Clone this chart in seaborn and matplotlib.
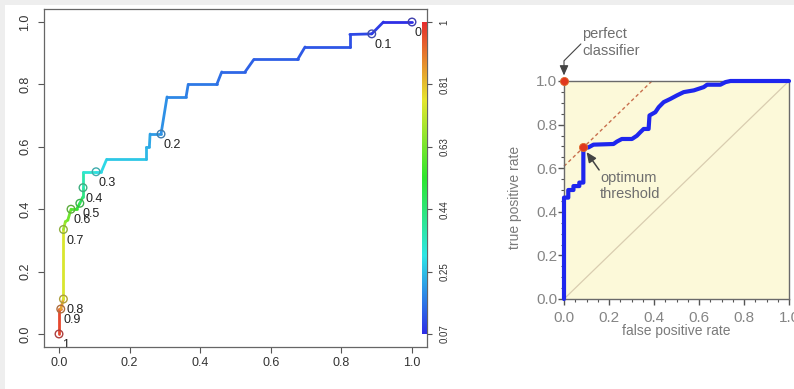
import numpy as np
import pandas as pd
import matplotlib
matplotlib.use("Agg")
import matplotlib.pyplot as plt
import seaborn as sns
from matplotlib.collections import LineCollection
from matplotlib.colors import ListedColormap, Normalize, hsv_to_rgb
from matplotlib.patches import Rectangle
from matplotlib.ticker import MultipleLocator

sns.set_theme(style="white")
plt.rcParams['font.family'] = ['Liberation Sans', 'DejaVu Sans']

# ---------------- data: left panel (ROC coloured by cutoff) ----------------
fpr_left = [0.000, 0.000, 0.005, 0.0125, 0.0125, 0.018, 0.025, 0.034, 0.050, 0.059,
            0.068, 0.068, 0.068, 0.105, 0.120, 0.135, 0.246, 0.246, 0.256, 0.258,
            0.289, 0.306, 0.360, 0.366, 0.447, 0.461, 0.527, 0.552, 0.676, 0.697,
            0.824, 0.824, 0.886, 0.919, 1.000]
tpr_left = [0.000, 0.080, 0.080, 0.112, 0.335, 0.360, 0.365, 0.400, 0.400, 0.419,
            0.440, 0.469, 0.520, 0.520, 0.520, 0.560, 0.560, 0.600, 0.600, 0.641,
            0.641, 0.760, 0.760, 0.800, 0.800, 0.840, 0.840, 0.880, 0.880, 0.920,
            0.920, 0.960, 0.962, 1.000, 1.000]
cut_left = [1.00, 0.93, 0.90, 0.80, 0.70, 0.66, 0.63, 0.60, 0.55, 0.50,
            0.45, 0.40, 0.35, 0.30, 0.29, 0.28, 0.25, 0.24, 0.23, 0.22,
            0.20, 0.19, 0.18, 0.17, 0.16, 0.15, 0.14, 0.135, 0.13, 0.125,
            0.12, 0.11, 0.10, 0.08, 0.00]

label_cut = [1.0, 0.9, 0.8, 0.7, 0.6, 0.5, 0.4, 0.3, 0.2, 0.1, 0.0]
label_text = ["1", "0.9", "0.8", "0.7", "0.6", "0.5", "0.4", "0.3", "0.2", "0.1", "0"]
label_fpr = [0.000, 0.005, 0.0125, 0.0125, 0.034, 0.059, 0.068, 0.105, 0.289, 0.886, 1.000]
label_tpr = [0.000, 0.080, 0.112, 0.335, 0.400, 0.419, 0.469, 0.520, 0.641, 0.962, 1.000]

axis_ticks = [0.0, 0.2, 0.4, 0.6, 0.8, 1.0]
axis_ticklabels = ["0.0", "0.2", "0.4", "0.6", "0.8", "1.0"]
cbar_ticklabels = ["0.07", "0.25", "0.44", "0.63", "0.81", "1"]
cbar_min, cbar_max = 0.07, 1.0

# ---------------- data: right panel ----------------
fpr_right = [0.000, 0.000, 0.019, 0.019, 0.042, 0.042, 0.068, 0.068, 0.086, 0.086,
             0.108, 0.131, 0.220, 0.235, 0.257, 0.302, 0.324, 0.339, 0.354, 0.376,
             0.380, 0.406, 0.421, 0.443, 0.473, 0.502, 0.532, 0.577, 0.621, 0.636,
             0.695, 0.718, 0.740, 1.000]
tpr_right = [0.000, 0.465, 0.465, 0.500, 0.500, 0.518, 0.518, 0.534, 0.534, 0.695,
             0.695, 0.708, 0.711, 0.722, 0.734, 0.734, 0.749, 0.765, 0.780, 0.780,
             0.842, 0.857, 0.880, 0.903, 0.918, 0.934, 0.949, 0.957, 0.972, 0.983,
             0.983, 0.995, 1.000, 1.000]
perfect_pt = (0.0, 1.0)
optimum_pt = (0.086, 0.695)
right_ticklabels = ["0.0", "0.2", "0.4", "0.6", "0.8", "1.0"]

# ---------------- colormap (R rainbow, blue -> red) ----------------
hues = np.linspace(240, 0, 256) / 360.0
hsv = np.column_stack([hues, np.full(256, 0.80), np.full(256, 0.90)])
cmap = ListedColormap(hsv_to_rgb(hsv))
norm = Normalize(vmin=cbar_min, vmax=cbar_max)

W, H = 794, 389
fig = plt.figure(figsize=(W / 100, H / 100), dpi=100, facecolor='#eeeeee')
fig.patches.append(Rectangle((5 / W, 0), 1, 1 - 5 / H, transform=fig.transFigure,
                             facecolor='white', edgecolor='none', zorder=-1))

# ================= left panel =================
ax1 = fig.add_axes([44 / W, 42 / H, 383 / W, 338 / H])
ax1.set_facecolor('white')
pts = np.column_stack([fpr_left, tpr_left])
segs = np.stack([pts[:-1], pts[1:]], axis=1)
cuts = np.asarray(cut_left)
seg_vals = (cuts[:-1] + cuts[1:]) / 2
lc = LineCollection(segs, cmap=cmap, norm=norm, linewidths=2.0, capstyle='round',
                    joinstyle='round', zorder=3)
lc.set_array(seg_vals)
ax1.add_collection(lc)

mk_cols = cmap(norm(np.asarray(label_cut)))
mk_cols[:, :3] = mk_cols[:, :3] * 0.6 + 0.4 * 0.35
ax1.scatter(label_fpr, label_tpr, s=30, facecolors='none', edgecolors=mk_cols,
            linewidths=1.0, zorder=4)
for t, x, y in zip(label_text, label_fpr, label_tpr):
    ax1.annotate(t, (x, y), xytext=(2.0, -8.0), textcoords='offset points',
                 ha='left', va='center', fontsize=9, color='#222222', clip_on=True)

# colour bar drawn inside the plot
grad = np.linspace(cbar_min, cbar_max, 256).reshape(-1, 1)
ax1.imshow(grad, extent=[1.028, 1.040, 0, 1], origin='lower', cmap=cmap, norm=norm,
           aspect='auto', zorder=3, interpolation='bilinear')

ax1.set_xlim(-0.0425, 1.0425)
ax1.set_ylim(-0.0417, 1.0417)
ax1.set_xticks(axis_ticks)
ax1.set_xticklabels(axis_ticklabels)
ax1.set_yticks(axis_ticks)
ax1.set_yticklabels(axis_ticklabels, rotation=90, va='center')
ax1.tick_params(axis='both', direction='out', length=4.3, width=0.8, color='#555555',
                labelsize=9, labelcolor='#333333', left=True, bottom=True)
ax1.tick_params(axis='x', pad=2.8)
ax1.tick_params(axis='y', pad=5.0)
for s in ax1.spines.values():
    s.set_color('#666666')
    s.set_linewidth(0.9)
ax1.grid(False)

ax1b = ax1.twinx()
ax1b.set_ylim(ax1.get_ylim())
ax1b.set_yticks(axis_ticks)
ax1b.set_yticklabels(cbar_ticklabels, rotation=90, va='center')
ax1b.tick_params(axis='y', direction='out', length=3.6, width=0.8, color='#555555',
                 labelsize=7, labelcolor='#333333', right=True, pad=5.5)
for s in ax1b.spines.values():
    s.set_visible(False)
ax1b.grid(False)

# ================= right panel =================
ax2 = fig.add_axes([564 / W, 90 / H, 225 / W, 218 / H])
ax2.set_facecolor('#fcf9d9')
ax2.set_xlim(0, 1)
ax2.set_ylim(0, 1)
ax2.axline((0, 0), slope=1, color='#d9cdb0', linewidth=0.9, zorder=1)
ax2.axline(optimum_pt, slope=1, color='#c8704e', linewidth=1.0,
           linestyle=(0, (2.5, 2)), zorder=1)

df_r = pd.DataFrame({'fpr': fpr_right, 'tpr': tpr_right})
sns.lineplot(data=df_r, x='fpr', y='tpr', sort=False, estimator=None,
             color='#1e26ee', linewidth=3.0, ax=ax2, zorder=3)
for ln in ax2.lines:
    ln.set_clip_on(False)

df_pts = pd.DataFrame({'x': [perfect_pt[0], optimum_pt[0]],
                       'y': [perfect_pt[1], optimum_pt[1]]})
sns.scatterplot(data=df_pts, x='x', y='y', ax=ax2, s=34, color='#e0381e',
                edgecolor='#e06a2a', linewidth=0.6, zorder=5, clip_on=False)

ax2.xaxis.set_major_locator(MultipleLocator(0.2))
ax2.xaxis.set_minor_locator(MultipleLocator(0.05))
ax2.yaxis.set_major_locator(MultipleLocator(0.2))
ax2.yaxis.set_minor_locator(MultipleLocator(0.05))
ax2.set_xticks(axis_ticks)
ax2.set_xticklabels(right_ticklabels)
ax2.set_yticks(axis_ticks)
ax2.set_yticklabels(right_ticklabels)
ax2.tick_params(which='major', direction='out', length=4.3, width=1.0, color='#555555',
                labelsize=11, labelcolor='#858585', left=True, bottom=True)
ax2.tick_params(which='minor', direction='out', length=2.2, width=0.8, color='#555555',
                left=True, bottom=True)
ax2.tick_params(axis='x', which='major', pad=4.5)
ax2.tick_params(axis='y', which='major', pad=0.7)
for s in ax2.spines.values():
    s.set_color('#6a6a6a')
    s.set_linewidth(1.0)
ax2.grid(False)

ax2.set_xlabel('false positive rate', fontsize=10, color='#7a7a7a')
ax2.set_ylabel('true positive rate', fontsize=10, color='#7a7a7a')
ax2.xaxis.set_label_coords(0.5, (299 - 331) / 218)
ax2.xaxis.label.set_va('center')
ax2.yaxis.set_label_coords((515 - 564) / 225, (299 - 197) / 218)
ax2.yaxis.label.set_va('center')

ax2.text(0.08, 1.177, 'perfect\nclassifier', fontsize=10.5, color='#6e6e6e',
         ha='left', va='center', linespacing=1.3, transform=ax2.transData, clip_on=False)
ax2.annotate('', xy=perfect_pt, xytext=(0.075, 1.17),
             arrowprops=dict(arrowstyle='-|>,head_length=0.5,head_width=0.22',
                             connectionstyle='angle,angleA=45,angleB=90,rad=0',
                             color='#444444', lw=0.8, shrinkA=0, shrinkB=4),
             annotation_clip=False)

ax2.text(0.16, 0.518, 'optimum\nthreshold', fontsize=10.5, color='#6e6e6e',
         ha='left', va='center', linespacing=1.25)
ax2.annotate('', xy=optimum_pt, xytext=(0.156, 0.592),
             arrowprops=dict(arrowstyle='-|>,head_length=0.5,head_width=0.22',
                             color='#444444', lw=1.1, shrinkA=0, shrinkB=4),
             annotation_clip=False)

fig.savefig('out.png', dpi=100, facecolor=fig.get_facecolor())
